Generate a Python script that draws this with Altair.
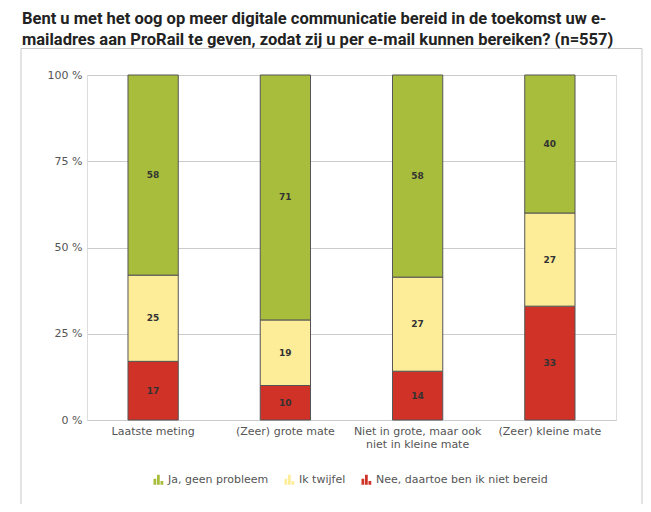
import altair as alt
import pandas as pd

categories = ["Laatste meting", "(Zeer) grote mate",
              "Niet in grote, maar ook niet in kleine mate", "(Zeer) kleine mate"]
series = ["Nee, daartoe ben ik niet bereid", "Ik twijfel", "Ja, geen probleem"]
legend_order = ["Ja, geen probleem", "Ik twijfel", "Nee, daartoe ben ik niet bereid"]
nee = [17, 10, 14, 33]
twijfel = [25, 19, 27, 27]
ja = [58, 71, 58, 40]
colors = {"Ja, geen probleem": "#a8bd3c", "Ik twijfel": "#fdec98",
          "Nee, daartoe ben ik niet bereid": "#d03227"}

rows = []
for i, c in enumerate(categories):
    for k, (s, vals) in enumerate(zip(series, [nee, twijfel, ja])):
        rows.append({"cat": c, "serie": s, "value": vals[i], "ord": k})
df = pd.DataFrame(rows)

icon = ("M-1,1 L-0.45,1 L-0.45,-0.2 L-1,-0.2 Z "
        "M-0.3,1 L0.25,1 L0.25,-1 L-0.3,-1 Z "
        "M0.4,1 L0.95,1 L0.95,0.25 L0.4,0.25 Z")

base = alt.Chart(df).transform_stack(
    stack="value", groupby=["cat"], sort=[alt.SortField("ord")],
    as_=["y0", "y1"], offset="normalize"
).transform_calculate(mid="(datum.y0 + datum.y1) / 2")

xenc = alt.X("cat:N", sort=categories, title=None,
             scale=alt.Scale(paddingInner=0.62, paddingOuter=0.31),
             axis=alt.Axis(labelAngle=0, ticks=False, domain=False, grid=False,
                           labelPadding=5, labelColor="#555", labelFontSize=11,
                           labelFont="DejaVu Sans", labelLineHeight=13,
                           labelExpr="datum.value == 'Niet in grote, maar ook niet in kleine mate' ? ['Niet in grote, maar ook', 'niet in kleine mate'] : datum.label"))

bars = base.mark_bar(stroke="#555555", strokeWidth=1).encode(
    x=xenc,
    y=alt.Y("y0:Q", title=None, scale=alt.Scale(domain=[0, 1]),
            axis=alt.Axis(values=[0, 0.25, 0.5, 0.75, 1], ticks=False, domain=False,
                          labelExpr="(datum.value * 100) + ' %'", labelPadding=5,
                          labelColor="#555", labelFontSize=11, labelFont="DejaVu Sans",
                          gridColor="#cccccc")),
    y2="y1:Q",
    color=alt.Color("serie:N", sort=legend_order,
                    scale=alt.Scale(domain=legend_order,
                                    range=[colors[s] for s in legend_order]),
                    legend=alt.Legend(title=None, orient="none", direction="horizontal",
                                      legendX=66, legendY=399, symbolType=icon,
                                      symbolSize=100, symbolStrokeWidth=0,
                                      labelFontSize=11, labelColor="#555",
                                      labelFont="DejaVu Sans", columnPadding=15,
                                      labelLimit=400, symbolOffset=0)),
)

labels = base.mark_text(fontSize=9, fontWeight="bold", color="#333333",
                        font="DejaVu Sans", baseline="middle").encode(
    x=alt.X("cat:N", sort=categories),
    y=alt.Y("mid:Q"),
    text=alt.Text("value:Q"),
)

box = alt.Chart(alt.Data(values=[{}])).mark_rect(
    fillOpacity=0, stroke="#c8c8c8", strokeWidth=1).encode(
    x=alt.value(-66), x2=alt.value(555), y=alt.value(-26.5), y2=alt.value(480))

chart = alt.layer(box, bars, labels).properties(
    width=529, height=345,
    autosize=alt.AutoSizeParams(type="none"),
    padding={"left": 79, "top": 67, "right": 27, "bottom": 84},
    title=alt.TitleParams(
        text=["Bent u met het oog op meer digitale communicatie bereid in de toekomst uw e-",
              "mailadres aan ProRail te geven, zodat zij u per e-mail kunnen bereiken? (n=557)"],
        anchor="start", frame="group", dx=-65, font="Roboto", fontSize=16.5,
        fontWeight="bold", color="#222222", lineHeight=21, offset=4, dy=4),
).configure_view(stroke="#cccccc").configure(background="white")

chart.save("out.html", embed_options={"renderer": "svg", "actions": False})
